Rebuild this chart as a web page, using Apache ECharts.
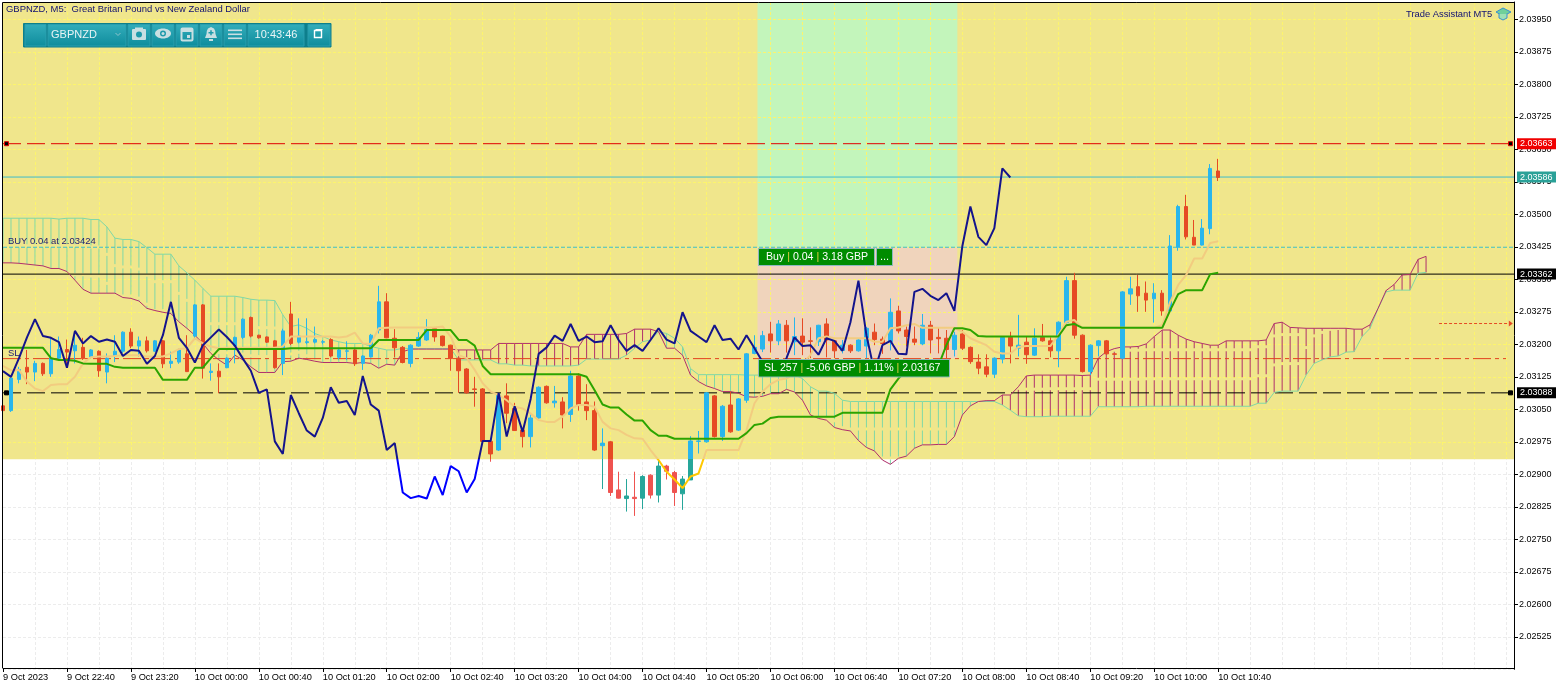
<!DOCTYPE html>
<html><head><meta charset="utf-8">
<style>html,body{margin:0;padding:0;background:#fff}#c{width:1567px;height:689px}</style>
<script src="https://cdn.jsdelivr.net/npm/echarts@6/dist/echarts.min.js"></script>
</head><body><div id="c"></div>
<script>
// All price arrays are in points above 2.03000 (1 point = 0.00001)
const tickLabels=["9 Oct 2023","9 Oct 22:40","9 Oct 23:20","10 Oct 00:00","10 Oct 00:40","10 Oct 01:20","10 Oct 02:00","10 Oct 02:40","10 Oct 03:20","10 Oct 04:00","10 Oct 04:40","10 Oct 05:20","10 Oct 06:00","10 Oct 06:40","10 Oct 07:20","10 Oct 08:00","10 Oct 08:40","10 Oct 09:20","10 Oct 10:00","10 Oct 10:40"];
const opens=[58,47,119,147,136,156,132,168,188,185,193,171,184,136,173,184,228,196,208,184,208,156,159,178,219,291,135,138,146,196,216,262,221,217,208,156,270,205,204,205,205,211,170,184,187,156,171,233,298,214,193,156,196,210,236,219,198,168,143,97,97,-24,-44,81,52,2,-13,30,103,65,67,38,127,67,47,-34,-25,-136,-156,-153,-155,-102,-148,-81,-96,-145,-113,-24,-25,81,-13,60,2,71,179,189,224,208,244,206,219,208,206,247,208,186,198,185,196,228,212,206,277,233,212,201,244,216,214,188,224,193,159,148,131,166,216,191,205,175,216,208,185,250,347,221,137,197,208,178,168,316,333,318,305,318,277,424,518,447,429,467,600];
const closes=[47,122,142,136,156,132,168,188,182,198,167,187,139,168,184,228,196,208,185,208,155,161,187,137,291,145,138,125,168,216,258,219,215,205,146,231,202,219,206,211,206,173,187,185,155,173,221,298,215,192,158,198,216,234,217,197,167,139,88,96,-24,-53,83,41,1,-13,30,101,65,69,37,127,61,47,-44,-28,-142,-155,-150,-156,-105,-148,-81,-93,-142,-111,-23,-23,88,-13,57,-2,74,178,193,220,208,247,208,218,205,207,244,210,185,198,185,210,237,211,202,274,231,218,205,244,210,213,188,221,191,160,145,131,168,216,196,198,176,214,208,185,251,347,221,137,198,208,178,177,321,328,312,302,318,277,427,518,448,429,468,606,585];
const highs=[60,122,148,187,162,158,214,218,211,229,215,189,186,179,221,230,237,218,218,210,210,183,190,221,293,293,156,156,170,218,260,264,222,218,210,236,298,260,260,241,210,214,190,207,190,175,224,335,318,235,196,200,228,258,240,220,199,170,145,125,99,-22,85,110,65,5,41,103,105,104,78,139,133,108,68,6,-23,-94,-111,-94,-102,-100,-67,-78,-92,-104,-12,0,90,83,60,91,76,180,221,231,252,256,256,262,260,239,245,260,210,210,200,212,240,248,218,306,289,241,241,270,254,239,233,229,233,195,177,177,170,218,229,268,218,237,247,216,253,356,365,223,200,210,210,179,323,356,360,345,341,325,452,522,545,487,489,616,628];
const lows=[44,44,110,108,115,127,125,164,148,156,164,167,125,110,159,180,191,172,181,182,145,145,155,136,210,121,116,87,145,156,212,216,213,203,144,129,198,202,200,202,200,170,165,164,150,141,170,225,214,170,156,147,194,208,206,195,139,88,86,56,-25,-71,-46,18,0,-38,-38,28,63,54,6,21,47,25,-46,-134,-150,-156,-186,-196,-180,-156,-165,-112,-173,-182,-113,-52,-27,-15,-23,-4,0,65,177,182,181,198,181,175,175,168,196,170,168,179,180,183,168,198,178,186,225,195,198,198,179,179,168,172,187,155,131,124,122,156,156,172,155,173,206,170,147,248,213,135,129,172,176,176,166,291,275,275,250,266,275,416,442,429,428,454,577];
const kijun=[192,192,192,192,192,192,168,164,164,162,156,155,155,155,148,146,146,146,146,146,118,118,118,118,146,146,168,189,189,189,189,189,189,189,189,189,191,191,191,191,191,191,191,191,191,191,191,210,210,210,210,210,210,233,233,233,233,210,210,197,150,131,131,131,131,131,131,131,131,131,131,131,131,125,94,61,54,54,38,24,24,2,-11,-11,-18,-18,-18,-18,-18,-18,-18,-18,-18,-5,14,17,30,33,33,33,33,33,33,33,33,42,42,42,42,42,42,96,121,140,140,140,140,150,198,237,237,233,219,218,218,218,218,218,218,218,218,218,218,244,247,238,238,238,238,238,238,238,238,238,238,238,279,316,325,325,325,362,365];
const tenkan=[150,140,141,114,98,92,106,108,108,125,156,170,172,172,173,175,175,175,172,172,172,179,189,191,214,202,195,191,192,192,192,192,192,192,192,195,218,218,218,218,218,218,216,218,227,202,201,237,238,239,239,239,239,239,239,241,218,175,168,141,110,91,83,71,56,52,40,25,21,21,33,52,60,60,56,21,6,2,-9,-17,-18,-44,-67,-94,-112,-132,-105,-98,-44,-44,-44,-44,-44,2,64,91,108,118,121,133,156,175,214,218,214,214,214,214,214,206,206,237,239,244,247,238,238,238,238,238,229,214,206,198,183,179,179,194,196,196,196,196,221,252,256,238,238,238,238,238,238,238,238,238,238,245,298,337,360,398,398,434,438];
const chikou=[138,125,168,216,258,219,215,205,146,231,202,219,206,211,206,173,187,185,155,173,221,298,215,192,158,198,216,234,217,197,167,139,88,96,-24,-53,83,41,1,-13,30,101,65,69,37,127,61,47,-44,-28,-142,-155,-150,-156,-105,-148,-81,-93,-142,-111,-23,-23,88,-13,57,-2,74,178,193,220,208,247,208,218,205,207,244,210,185,198,185,210,237,211,202,274,231,218,205,244,210,213,188,221,191,160,145,131,168,216,196,198,176,214,208,185,251,347,221,137,198,208,178,177,321,328,312,302,318,277,427,518,448,429,468,606,585];
const spanA=[491,491,491,491,491,491,491,489,491,491,491,488,488,471,445,442,442,437,423,408,408,408,381,365,348,329,311,311,311,311,308,304,302,302,301,268,241,245,237,225,218,210,206,202,202,202,195,191,187,187,191,190,190,190,190,190,190,164,164,164,164,164,155,155,152,152,150,150,150,150,150,150,152,166,166,166,166,166,175,191,206,210,229,225,214,194,144,130,130,130,130,130,130,129,129,129,129,129,129,129,121,102,92,92,87,71,68,68,68,68,68,68,68,68,68,68,68,68,68,68,68,68,68,68,68,60,48,35,33,33,33,34,34,34,34,34,34,56,56,56,56,56,56,57,57,57,57,57,57,57,57,57,57,57,57,57,57,64,64,89,92,92,92,129,156,164,171,173,182,183,218,237,283,321,325,325,325,364,366];
const spanB=[388,388,387,385,383,381,375,375,368,348,327,318,318,318,318,308,306,300,283,278,274,271,252,237,221,202,179,164,152,175,164,148,135,135,135,160,161,168,165,161,158,158,158,158,156,158,156,145,154,152,183,189,189,189,189,189,189,187,187,187,187,187,202,202,202,202,202,202,202,202,202,194,194,223,223,223,223,223,225,235,235,235,229,191,191,175,129,114,104,98,91,91,87,79,78,80,86,86,96,90,71,37,29,25,8,3,0,-22,-38,-46,-67,-77,-63,-58,-40,-32,-32,-31,-31,-13,37,58,68,70,70,83,83,102,127,129,129,129,129,129,129,128,129,168,183,190,194,194,195,201,218,233,233,221,212,206,202,198,198,208,208,208,208,208,210,248,251,239,238,237,237,237,237,237,237,235,235,245,283,324,338,360,361,396,403];
const levelPrices=[2.03663,2.03586,2.03424,2.03362,2.03167,2.03088];
const tagPrices=[2.03663,2.03586,2.03362,2.03088];
const handlePrices=[2.03663,2.03088];
const zoneYellow=[0,189,2.02935,2.0399];
const zoneProfit=[94.375,119.375,2.03424,2.0399];
const zoneLoss=[94.375,119.375,2.03167,2.03424];
const arrowLevel=[179.625,188.85,2.03248];

const toPrice=p=>+(2.03+p/1e5).toFixed(5);
const FONT='"Liberation Sans",Arial,sans-serif';
const split=(a,b)=>new echarts.graphic.LinearGradient(0,0,0,689,[{offset:0,color:a},{offset:459/689,color:a},{offset:459/689,color:b},{offset:1,color:b}],true);
const categories=Array.from({length:190},(_,i)=>String(i));
const candleData=opens.map((o,i)=>[toPrice(o),toPrice(closes[i]),toPrice(lows[i]),toPrice(highs[i])]);
const lineOf=(arr,name,color,width,z)=>({name,type:'line',data:arr.map(toPrice),symbol:'none',z,silent:true,animation:false,lineStyle:{color,width},itemStyle:{color}});

function zoneSeries(zone,fill){
  return {type:'custom',z:0,silent:true,animation:false,data:[zone],
    renderItem(p,api){
      const x0=api.value(0),x1=api.value(1),band=api.size([1,0])[0];
      const a=api.coord([Math.floor(x0),api.value(3)]),b=api.coord([Math.floor(x1),api.value(2)]);
      const xa=a[0]+(x0-Math.floor(x0))*band,xb=b[0]+(x1-Math.floor(x1))*band;
      return {type:'rect',shape:{x:xa,y:a[1],width:xb-xa,height:b[1]-a[1]},style:{fill}};
    },encode:{x:0,y:2}};
}
const levelStyles=[
 {color:'#e00000',width:1,type:[18,6]},
 {color:'#3fbccb',width:1,type:'solid'},
 {color:'#3fbccb',width:1,type:[4,2]},
 {color:'#000',width:1,type:'solid'},
 {color:'#e2421f',width:1,type:[18,4,4,4]},
 {color:'#000',width:1,type:[18,6]}];
const levelSeries=levelPrices.map((v,k)=>({type:'line',z:2,silent:true,animation:false,symbol:'none',
  data:[[0,v],[k===4?188:189,v]],lineStyle:levelStyles[k]}));
const tagStyle={2.03663:{bg:'#f00000',fg:'#fff'},2.03586:{bg:'#2aa198',fg:'#fff'},2.03362:{bg:'#000',fg:'#fff'},2.03088:{bg:'#000',fg:'#fff'}};

const series=[
 zoneSeries(zoneYellow,'#f0e68c'),
 zoneSeries(zoneProfit,'#c3f5bb'),
 zoneSeries(zoneLoss,'#f0d4bc'),
 ...levelSeries,
 {type:'custom',z:2,silent:true,animation:false,data:spanA.map((a,i)=>[i,toPrice(a),toPrice(spanB[i])]),
  encode:{x:0,y:[1,2]},
  renderItem(p,api){
    const a=api.coord([api.value(0),api.value(1)]),b=api.coord([api.value(0),api.value(2)]);
    const up=api.value(1)>api.value(2);
    return {type:'line',shape:{x1:a[0],y1:a[1],x2:b[0],y2:b[1]},
      style:{stroke:up?'#80d8a6':'#b0306c',lineWidth:1,lineDash:[26,3],fill:null}};
  }},
 lineOf(spanA,'Senkou A','#80d8a6',1,3),
 lineOf(spanB,'Senkou B','#b0306c',1,3),
 {name:'GBPNZD',type:'candlestick',z:4,silent:true,animation:false,data:candleData,barWidth:4,
  itemStyle:{color:split('#29b6ec','#26a69a'),color0:split('#e64a24','#ef5350'),
    borderColor:split('#29b6ec','#26a69a'),borderColor0:split('#e64a24','#ef5350'),borderWidth:1}},
 lineOf(tenkan,'Tenkan',split('#f2cc80','#ffc800'),2,5),
 lineOf(kijun,'Kijun','#2ca400',2,5),
 lineOf(chikou,'Chikou',split('#14148c','#0000ff'),2,6),
 {type:'custom',z:8,silent:true,animation:false,data:[arrowLevel],
  encode:{x:0,y:2},
  renderItem(p,api){
    const band=api.size([1,0])[0],x0=api.value(0),x1=api.value(1),y=api.coord([0,api.value(2)])[1];
    const base=api.coord([0,api.value(2)])[0];
    const xa=base+x0*band,xb=base+x1*band;
    return {type:'group',children:[
      {type:'line',shape:{x1:xa,y1:y,x2:xb-3,y2:y},style:{stroke:'#e64a24',lineWidth:1,lineDash:[3,2],fill:null}},
      {type:'polygon',shape:{points:[[xb-4,y-3],[xb,y],[xb-4,y+3]]},style:{fill:'#e64a24'}}]};
  }},
 {type:'custom',z:20,silent:true,animation:false,data:tagPrices.map(v=>[0,v]),encode:{x:0,y:1},
  renderItem(p,api){
    const v=api.value(1),y=api.coord([0,v])[1],c=tagStyle[v],x=p.coordSys.x+p.coordSys.width+3;
    return {type:'group',children:[
      {type:'rect',shape:{x,y:y-5.5,width:39,height:11},style:{fill:c.bg}},
      {type:'text',x:x+3,y,style:{text:v.toFixed(5),fill:c.fg,font:'9px '+FONT,verticalAlign:'middle',textAlign:'left'}}]};
  }},
 {type:'custom',z:20,silent:true,animation:false,data:handlePrices.map(v=>[0,v]),encode:{x:0,y:1},
  renderItem(p,api){
    const v=api.value(1),y=api.coord([0,v])[1],s=p.coordSys;
    const red=v>2.035;
    const sq=x=>({type:'rect',shape:{x:x-2,y:y-2,width:4,height:4},style:{fill:'#000',stroke:red?'#e00000':'#000',lineWidth:1}});
    return {type:'group',children:[sq(s.x+3.5),sq(s.x+s.width-3.5)]};
  }}
];

const tb=(x,w)=>({type:'rect',z:50,shape:{x,y:24.5,width:w,height:21.5},
  style:{fill:new echarts.graphic.LinearGradient(0,0,0,1,[{offset:0,color:'#33adbb'},{offset:1,color:'#0e8c9c'}]),stroke:'#2a9eae',lineWidth:1}});
const ic='#c9dfe2';
const txt=(x,y,text,fill,size,extra)=>({type:'text',z:60,x,y,style:Object.assign({text,fill,font:size+'px '+FONT,verticalAlign:'middle',textAlign:'left'},extra||{})});
const sepRich={w:{fill:'#fff',font:'10.6px '+FONT},s:{fill:'#e8d040',font:'10.6px '+FONT}};
const box=(x,y,w,h)=>({type:'rect',z:55,shape:{x,y,width:w,height:h},style:{fill:'#008c00',stroke:'#8fb8c0',lineWidth:1}});
const graphic=[
 {type:'line',z:40,shape:{x1:2.5,y1:2.5,x2:2.5,y2:668},style:{stroke:'#000',lineWidth:1}},
 {type:'line',z:40,shape:{x1:2.5,y1:2.5,x2:1514,y2:2.5},style:{stroke:'#000',lineWidth:1}},
 txt(6,9.5,'GBPNZD, M5:  Great Britan Pound vs New Zealand Dollar','#101070',9.45),
 txt(8,241.5,'BUY 0.04 at 2.03424','#1c1c70',9.45),
 txt(8,353,'SL','#1c1c70',9.45),
 txt(1406,14,'Trade Assistant MT5','#101070',9.4),
 {type:'polygon',z:60,shape:{points:[[1503,8],[1511,12],[1503,16],[1496,12]]},style:{fill:'#6fd09a',stroke:'#3a8fd0',lineWidth:1}},
 {type:'polyline',z:60,shape:{points:[[1499,14],[1499,18],[1503,20],[1507,18],[1507,14]]},style:{fill:'#9fe0b4',stroke:'#3a8fd0',lineWidth:1}},
 {type:'rect',z:49,shape:{x:23.5,y:23.5,width:307.5,height:23.5},style:{fill:'#0d7f8c',stroke:'#0d7f8c'}},
 tb(25,21),tb(48,78),tb(128,22),tb(152,22),tb(176,22),tb(200,22),tb(224,22),tb(248,56),tb(308,22),
 txt(51,34.5,'GBPNZD','#e8f4f5',11),
 {type:'polyline',z:60,shape:{points:[[115.5,33],[118,35.5],[120.5,33]]},style:{stroke:'#8fc4cc',lineWidth:1,fill:null}},
 {type:'rect',z:60,shape:{x:132,y:29,width:14,height:11,r:1},style:{fill:ic}},
 {type:'rect',z:60,shape:{x:135,y:27.5,width:8,height:2},style:{fill:ic}},
 {type:'circle',z:61,shape:{cx:139,cy:34.5,r:3},style:{fill:'#1f9aaa'}},
 {type:'ellipse',z:60,shape:{cx:163,cy:33.5,rx:8,ry:5},style:{fill:ic}},
 {type:'circle',z:61,shape:{cx:163,cy:33.5,r:3},style:{fill:'#1f9aaa'}},
 {type:'circle',z:62,shape:{cx:163,cy:33.5,r:1.5},style:{fill:ic}},
 {type:'rect',z:60,shape:{x:181.5,y:28.5,width:11,height:12,r:1},style:{fill:null,stroke:ic,lineWidth:2}},
 {type:'rect',z:60,shape:{x:181,y:29,width:12,height:3},style:{fill:ic}},
 {type:'rect',z:60,shape:{x:187,y:35,width:3,height:3},style:{fill:ic}},
 {type:'polygon',z:60,shape:{points:[[211,27],[208,28.5],[206.8,31],[206.5,34],[205,38],[217,38],[215.5,34],[215.2,31],[214,28.5]]},style:{fill:ic}},
 {type:'rect',z:60,shape:{x:209,y:39,width:4,height:2},style:{fill:ic}},
 {type:'rect',z:61,shape:{x:208.5,y:32,width:5,height:1.5},style:{fill:'#1f9aaa'}},
 {type:'rect',z:61,shape:{x:210.25,y:30.2,width:1.5,height:5},style:{fill:'#1f9aaa'}},
 {type:'rect',z:60,shape:{x:228,y:29.5,width:14,height:1.6},style:{fill:ic}},
 {type:'rect',z:60,shape:{x:228,y:33.5,width:14,height:1.6},style:{fill:ic}},
 {type:'rect',z:60,shape:{x:228,y:37.5,width:14,height:1.6},style:{fill:ic}},
 txt(276,34.5,'10:43:46','#eaf5f6',11,{textAlign:'center'}),
 {type:'rect',z:60,shape:{x:314.5,y:30.5,width:7,height:7},style:{fill:null,stroke:'#fff',lineWidth:1.4}},
 {type:'line',z:60,shape:{x1:315.5,y1:29.5,x2:322.5,y2:29.5},style:{stroke:'#fff',lineWidth:1}},
 box(758.5,248.5,116,17),box(876.5,248.5,16,17),box(758.5,359.5,191,17.5),
 {type:'text',z:60,x:766,y:257,style:{text:'{w|Buy }{s||}{w| 0.04 }{s||}{w| 3.18 GBP}',rich:sepRich,verticalAlign:'middle',textAlign:'left'}},
 txt(880,257,'...','#fff',11),
 {type:'text',z:60,x:764,y:368,style:{text:'{w|SL 257 }{s||}{w| -5.06 GBP }{s||}{w| 1.11% }{s||}{w| 2.03167}',rich:sepRich,verticalAlign:'middle',textAlign:'left'}}
];

const chart=echarts.init(document.getElementById('c'),null,{renderer:'canvas'});
chart.setOption({
 animation:false,backgroundColor:'#fff',
 grid:{left:2,top:2,width:1512,bottom:19.7,containLabel:false},
 xAxis:{type:'category',data:categories,boundaryGap:false,z:1,offset:-1.3,
  axisLine:{show:true,lineStyle:{color:'#000',width:1}},
  axisTick:{show:true,length:4,interval:i=>i%8===0&&i<=152,lineStyle:{color:'#000'}},
  axisLabel:{interval:i=>i%8===0&&i<=152,color:'#000',fontFamily:FONT,fontSize:9.25,margin:5,align:'left',
    formatter:(v,i)=>tickLabels[i/8]||''},
  splitLine:{show:true,interval:i=>i%4===0&&i>0,lineStyle:{color:split('#fdf56c','#ececec'),width:1,type:[3,2]}}},
 yAxis:{type:'value',position:'right',min:2.0245,max:2.0399,interval:0.00075,z:1,scale:true,
  axisLine:{show:true,onZero:false,lineStyle:{color:'#000',width:1}},
  axisTick:{show:true,length:4,lineStyle:{color:'#000'}},
  axisLabel:{color:'#000',fontFamily:FONT,fontSize:9,margin:5,showMinLabel:false,showMaxLabel:false,formatter:v=>v.toFixed(5)},
  splitLine:{show:true,lineStyle:{color:split('#fdf56c','#ececec'),width:1,type:[3,2]}}},
 series,graphic
});
</script></body></html>
